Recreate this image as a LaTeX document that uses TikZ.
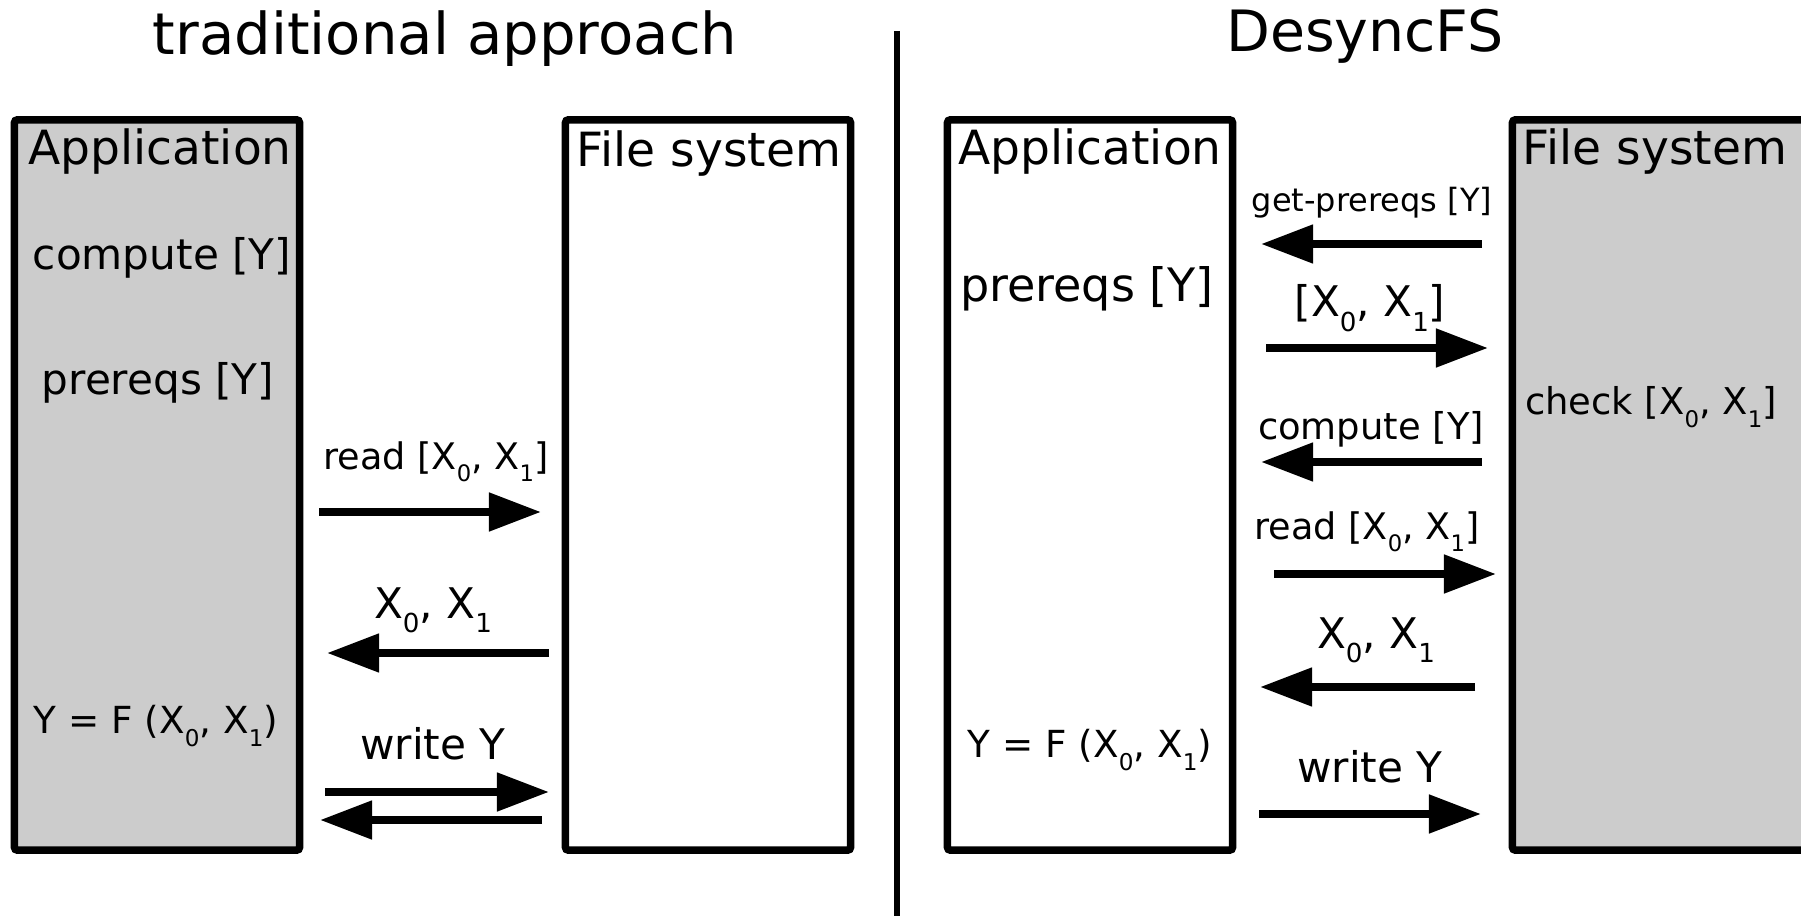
\documentclass[tikz,border=0pt]{standalone}
\usepackage{fontspec}
\setmainfont{DejaVu Sans}
\usepackage{graphicx}
\usepackage{xcolor}
\usepackage{tikz}
\usetikzlibrary{arrows.meta,positioning}
\definecolor{boxgray}{HTML}{CCCCCC}
\newcommand{\lsub}[1]{\raisebox{-0.35em}{\scalebox{0.62}{#1}}}
\newcommand{\fsz}[1]{\fontsize{#1}{#1}\selectfont}

\begin{document}
\begin{tikzpicture}[x=0.01cm, y=-0.01cm,
    tbox/.style={draw, line width=0.075cm, rounded corners=0.03cm, minimum width=2.85cm, minimum height=7.3cm, inner sep=0},
    lbl/.style={anchor=base, inner sep=0},
    msg/.style={line width=0.08cm, -{Triangle[length=0.52cm, width=0.37cm]}}]
    \useasboundingbox (0,0) rectangle (1801,916);

    % traditional approach
    \node[lbl, font=\fsz{16.4}] (ttrad) at (445,55) {traditional approach};
    \node[tbox, fill=boxgray] (lapp) at (157,485) {};
    \node[tbox] (lfs) at (708,485) {};
    \node[lbl, font=\fsz{13.4}] (lapphead) at (160,165) {Application};
    \node[lbl, font=\fsz{13.4}] (lfshead) at (709,167) {File system};
    \node[lbl, font=\fsz{12}] (lcomp) at (162,270) {compute [Y]};
    \node[lbl, font=\fsz{12}] (lpre) at (158,395) {prereqs [Y]};
    \node[lbl, font=\fsz{10.6}] (lfunc) at (156,733) {Y = F (X\lsub{0}, X\lsub{1})};
    \node[lbl, font=\fsz{10.4}] (lread) at (436,469) {read [X\lsub{0}, X\lsub{1}]};
    \node[lbl, font=\fsz{12}] (lval) at (433,618) {X\lsub{0}, X\lsub{1}};
    \node[lbl, font=\fsz{12}] (lwrite) at (433,759) {write Y};

    \coordinate (lr1) at (319,512); \coordinate (lr2) at (541,512);
    \coordinate (lv1) at (549,653); \coordinate (lv2) at (327,653);
    \coordinate (lw1) at (325,792); \coordinate (lw2) at (549,792);
    \coordinate (lk1) at (542,820); \coordinate (lk2) at (320,820);
    \draw[msg] (lr1) -- (lr2);
    \draw[msg] (lv1) -- (lv2);
    \draw[msg] (lw1) -- (lw2);
    \draw[msg] (lk1) -- (lk2);

    % divider
    \draw[line width=0.055cm] (897,31) -- (897,916);

    % DesyncFS
    \node[lbl, font=\fsz{16.2}] (tdes) at (1365,52) {DesyncFS};
    \node[tbox] (rapp) at (1090,485) {};
    \node[tbox, fill=boxgray, minimum width=2.95cm] (rfs) at (1660,485) {};
    \node[lbl, font=\fsz{13.4}] (rapphead) at (1090,165) {Application};
    \node[lbl, font=\fsz{13.4}] (rfshead) at (1655,165) {File system};
    \node[lbl, font=\fsz{13.1}] (rpre) at (1087,302) {prereqs [Y]};
    \node[lbl, font=\fsz{10.6}] (rfunc) at (1090,757) {Y = F (X\lsub{0}, X\lsub{1})};
    \node[lbl, font=\fsz{10.5}] (rcheck) at (1651,415) {check [X\lsub{0}, X\lsub{1}]};
    \node[lbl, font=\fsz{9.1}] (rget) at (1372,212) {get-prereqs [Y]};
    \node[lbl, font=\fsz{12}] (rlist) at (1370,317) {[X\lsub{0}, X\lsub{1}]};
    \node[lbl, font=\fsz{10.5}] (rcomp) at (1371,440) {compute [Y]};
    \node[lbl, font=\fsz{10.4}] (rread) at (1367,539) {read [X\lsub{0}, X\lsub{1}]};
    \node[lbl, font=\fsz{12}] (rval) at (1376,648) {X\lsub{0}, X\lsub{1}};
    \node[lbl, font=\fsz{12}] (rwrite) at (1370,782) {write Y};

    \coordinate (rg1) at (1482,244); \coordinate (rg2) at (1261,244);
    \coordinate (rl1) at (1266,348); \coordinate (rl2) at (1488,348);
    \coordinate (rc1) at (1482,462); \coordinate (rc2) at (1261,462);
    \coordinate (rr1) at (1274,574); \coordinate (rr2) at (1496,574);
    \coordinate (rv1) at (1475,687); \coordinate (rv2) at (1260,687);
    \coordinate (rw1) at (1259,814); \coordinate (rw2) at (1481,814);
    \draw[msg] (rg1) -- (rg2);
    \draw[msg] (rl1) -- (rl2);
    \draw[msg] (rc1) -- (rc2);
    \draw[msg] (rr1) -- (rr2);
    \draw[msg] (rv1) -- (rv2);
    \draw[msg] (rw1) -- (rw2);
\end{tikzpicture}
\end{document}
